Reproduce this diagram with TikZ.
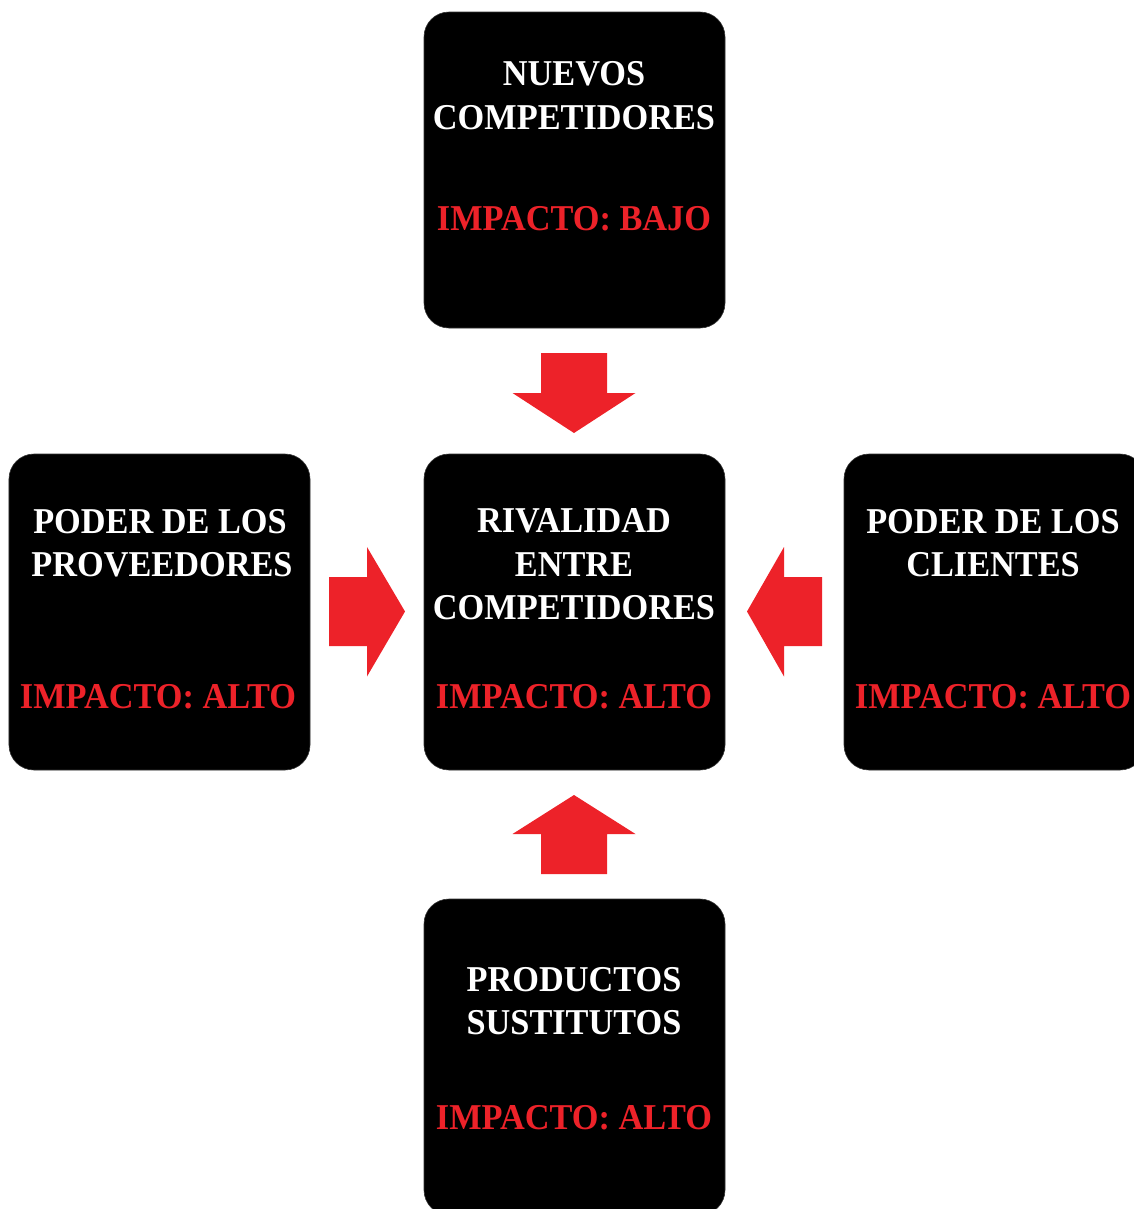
\documentclass[tikz,border=0pt]{standalone}
\usepackage{fontspec}
\usepackage{graphicx}
\setmainfont{Liberation Serif}
\definecolor{redc}{HTML}{ED2229}
\newcommand{\tallt}[1]{\scalebox{1}[1.06]{#1}}
\tikzset{
  box/.style={fill=black, draw=black!80, line width=0.6bp, rounded corners=25bp,
    minimum width=301bp, minimum height=316bp, inner sep=0pt},
  ttl/.style={anchor=base, text=white, inner sep=0pt, font=\fontsize{34.3bp}{44bp}\selectfont\bfseries},
  imp/.style={anchor=base, text=redc, inner sep=0pt, font=\fontsize{34.3bp}{44bp}\selectfont\bfseries},
  blockarrow/.style={fill=redc}
}
\begin{document}
\begin{tikzpicture}[x=1bp,y=-1bp]
\useasboundingbox (0,0) rectangle (1134,1209);
\begin{scope}
\clip (0,0) rectangle (1134,1209);
% boxes
\node[box] (top) at (574.5,170) {};
\node[box] (left) at (159.5,612) {};
\node[box] (center) at (574.5,612) {};
\node[box] (right) at (994.5,612) {};
\node[box] (bottom) at (574.5,1057) {};
\end{scope}
% top texts
\node[ttl] (ta) at (574,85) {\tallt{NUEVOS}};
\node[ttl] (tb) at (574,129) {\tallt{COMPETIDORES}};
\node[imp] (ti) at (574,230) {\tallt{IMPACTO: BAJO}};
% left texts
\node[ttl] (la) at (160,533) {\tallt{PODER DE LOS}};
\node[ttl] (lb) at (162,576) {\tallt{PROVEEDORES}};
\node[imp] (li) at (158,708) {\tallt{IMPACTO: ALTO}};
% center texts
\node[ttl] (ca) at (574,532) {\tallt{RIVALIDAD}};
\node[ttl] (cb) at (574,576) {\tallt{ENTRE}};
\node[ttl] (cc) at (574,619) {\tallt{COMPETIDORES}};
\node[imp] (ci) at (574,708) {\tallt{IMPACTO: ALTO}};
% right texts
\node[ttl] (ra) at (993,533) {\tallt{PODER DE LOS}};
\node[ttl] (rb) at (993,576) {\tallt{CLIENTES}};
\node[imp] (ri) at (993,708) {\tallt{IMPACTO: ALTO}};
% bottom texts
\node[ttl] (ba) at (574,991) {\tallt{PRODUCTOS}};
\node[ttl] (bb) at (574,1034) {\tallt{SUSTITUTOS}};
\node[imp] (bi) at (574,1129) {\tallt{IMPACTO: ALTO}};
% arrows
\fill[blockarrow] (541,353) -- (607,353) -- (607,393) -- (635.5,393) -- (574,433) -- (512.5,393) -- (541,393) -- cycle;
\fill[blockarrow] (541,874) -- (607,874) -- (607,834) -- (635.5,834) -- (574,795) -- (512.5,834) -- (541,834) -- cycle;
\fill[blockarrow] (329,577) -- (329,646) -- (367,646) -- (367,676.5) -- (405,611.5) -- (367,547) -- (367,577) -- cycle;
\fill[blockarrow] (822,577) -- (822,646) -- (784,646) -- (784,676.5) -- (747,611.5) -- (784,547) -- (784,577) -- cycle;
\end{tikzpicture}
\end{document}
